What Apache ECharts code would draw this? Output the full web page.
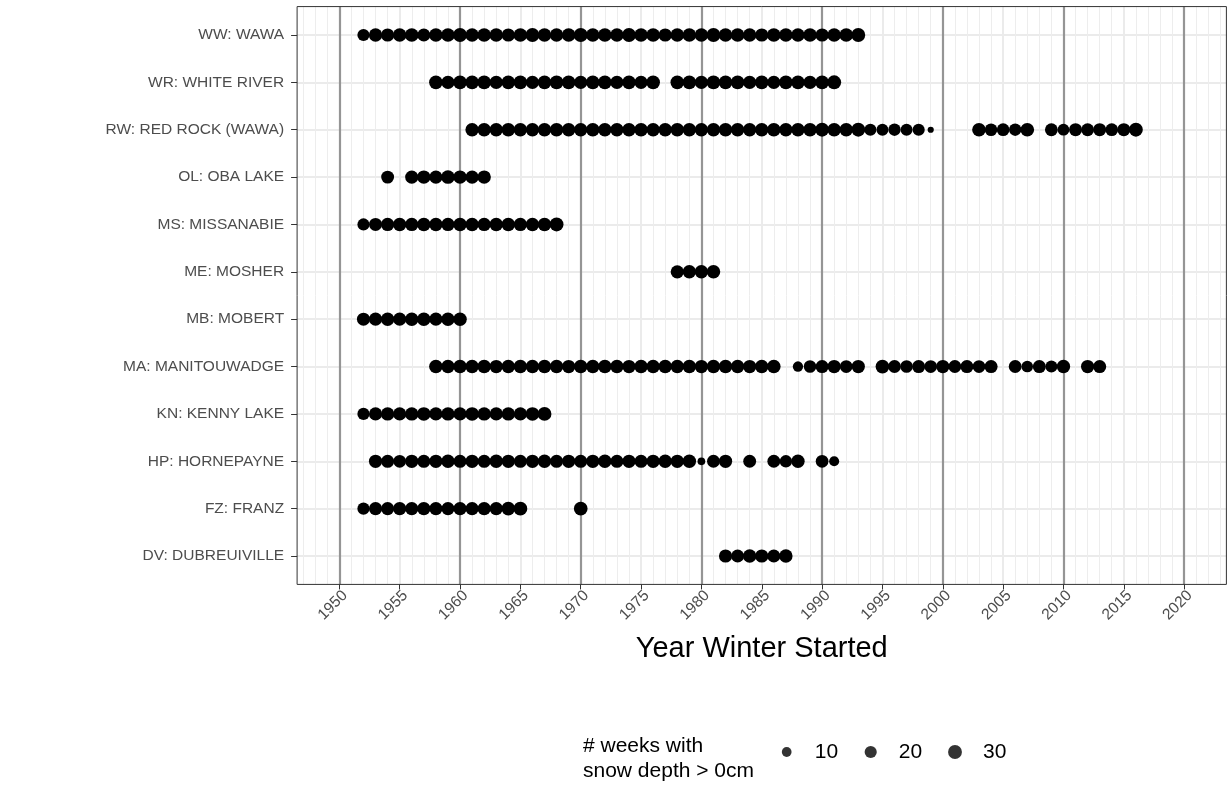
<!DOCTYPE html>
<html>
<head>
<meta charset="utf-8">
<script src="https://cdn.jsdelivr.net/npm/echarts@6/dist/echarts.min.js"></script>
<style>
  html, body { margin: 0; padding: 0; background: #fff; }
  #chart { width: 1231px; height: 793px; }
</style>
</head>
<body>
<div id="chart"></div>
<script>
// ---------------- DATA ----------------
const categories = ['WW: WAWA', 'WR: WHITE RIVER', 'RW: RED ROCK (WAWA)', 'OL: OBA LAKE', 'MS: MISSANABIE',
  'ME: MOSHER', 'MB: MOBERT', 'MA: MANITOUWADGE', 'KN: KENNY LAKE', 'HP: HORNEPAYNE', 'FZ: FRANZ', 'DV: DUBREUIVILLE'];

const wwYears = [1952,1953,1954,1955,1956,1957,1958,1959,1960,1961,1962,1963,1964,1965,1966,1967,1968,1969,1970,1971,1972,1973,1974,1975,1976,1977,1978,1979,1980,1981,1982,1983,1984,1985,1986,1987,1988,1989,1990,1991,1992,1993];
const wwWeeks = [20,27,26,28,29,25,28,29,30,27,29,28,26,29,30,28,27,29,31,28,29,27,30,28,29,26,28,29,27,30,28,29,27,26,29,28,27,29,26,28,29,30];

const wrYears = [1958,1959,1960,1961,1962,1963,1964,1965,1966,1967,1968,1969,1970,1971,1972,1973,1974,1975,1976,1978,1979,1980,1981,1982,1983,1984,1985,1986,1987,1988,1989,1990,1991];
const wrWeeks = [28,27,29,28,30,27,28,29,26,28,30,29,27,28,29,27,28,26,29,28,29,27,30,28,29,27,28,26,29,28,27,29,31];

const rwYears = [1961,1962,1963,1964,1965,1966,1967,1968,1969,1970,1971,1972,1973,1974,1975,1976,1977,1978,1979,1980,1981,1982,1983,1984,1985,1986,1987,1988,1989,1990,1991,1992,1993,1994,1995,1996,1997,1998,1999,2003,2004,2005,2006,2007,2009,2010,2011,2012,2013,2014,2015,2016];
const rwWeeks = [27,28,27,29,28,27,28,29,28,27,29,28,27,28,29,27,28,29,28,27,28,29,28,27,28,29,27,28,29,30,29,28,30,20,19,21,19,20,4.5,29,22,23,21,29,24,18,25,24,25,23,25,30];

const olYears = [1954,1956,1957,1958,1959,1960,1961,1962];
const olWeeks = [24,26,27,26,28,27,26,27];

const msYears = [1952,1953,1954,1955,1956,1957,1958,1959,1960,1961,1962,1963,1964,1965,1966,1967,1968];
const msWeeks = [20,25,26,27,26,28,27,26,28,27,26,27,28,26,27,28,30];

const meYears = [1978,1979,1980,1981];
const meWeeks = [26,27,27,28];

const mbYears = [1952,1953,1954,1955,1956,1957,1958,1959,1960];
const mbWeeks = [25,26,27,26,27,28,26,27,28];

const maYears = [1958,1959,1960,1961,1962,1963,1964,1965,1966,1967,1968,1969,1970,1971,1972,1973,1974,1975,1976,1977,1978,1979,1980,1981,1982,1983,1984,1985,1986,1988,1989,1990,1991,1992,1993,1995,1996,1997,1998,1999,2000,2001,2002,2003,2004,2006,2007,2008,2009,2010,2012,2013];
const maWeeks = [28,27,28,27,28,26,27,28,27,28,27,26,28,27,28,27,26,28,27,28,27,28,26,27,28,27,26,27,28,12,22,25,26,23,26,29,24,22,25,23,26,24,25,23,25,24,17,25,19,27,26,25];

const knYears = [1952,1953,1954,1955,1956,1957,1958,1959,1960,1961,1962,1963,1964,1965,1966,1967];
const knWeeks = [20,26,27,26,27,28,26,27,26,28,27,26,27,26,28,30];

const hpYears = [1953,1954,1955,1956,1957,1958,1959,1960,1961,1962,1963,1964,1965,1966,1967,1968,1969,1970,1971,1972,1973,1974,1975,1976,1977,1978,1979,1980,1981,1982,1984,1986,1987,1988,1990,1991];
const hpWeeks = [26,25,23,26,25,26,27,25,26,25,27,26,25,26,27,25,26,25,26,27,25,26,25,26,27,26,28,5.5,24,26,24,24,21,27,23,11];

const fzYears = [1952,1953,1954,1955,1956,1957,1958,1959,1960,1961,1962,1963,1964,1965,1970];
const fzWeeks = [20,26,25,27,26,27,26,25,27,26,27,26,28,30,29];

const dvYears = [1982,1983,1984,1985,1986,1987];
const dvWeeks = [26,25,27,26,25,27];

const legendValues = [10, 20, 30];
const xTickStart = 1950, xTickEnd = 2020, xTickStep = 5;

// ---------------- LAYOUT ----------------
const FONT = "'Liberation Sans', Arial, Helvetica, sans-serif";
const xMin = 1946.5, xMax = 2023.5;
const panelL = 297.1, panelR = 1226.4;
const ppy = (panelR - panelL) / (xMax - xMin);
const px = (yr) => panelL + (yr - xMin) * ppy;
const cTop = 35, cBot = 556;
const step = (cBot - cTop) / (categories.length - 1);
const panelT = cTop - 0.6 * step, panelB = cBot + 0.6 * step;

function sizeOf(v) { return 6.2 + 8.3 * Math.sqrt(Math.max(v - 4.5, 0) / 30); }

const stations = [
  [wwYears, wwWeeks], [wrYears, wrWeeks], [rwYears, rwWeeks], [olYears, olWeeks], [msYears, msWeeks],
  [meYears, meWeeks], [mbYears, mbWeeks], [maYears, maWeeks], [knYears, knWeeks], [hpYears, hpWeeks],
  [fzYears, fzWeeks], [dvYears, dvWeeks]
];
const points = [];
stations.forEach(([ys, ws], i) => ys.forEach((y, j) => points.push([y, categories[i], ws[j]])));

function gridBox(l, r, t, b) {
  return { left: l, width: r - l, top: t, height: b - t, outerBoundsMode: 'none', containLabel: false, show: false };
}
const hidden = { show: false };
const noAxisParts = { axisLine: hidden, axisTick: hidden, axisLabel: hidden, splitLine: hidden };

const grids = [
  Object.assign(gridBox(panelL, panelR, panelT, panelB), { show: true, borderColor: '#333333', borderWidth: 1, backgroundColor: 'transparent', z: 10 }), // 0 frame
  gridBox(px(1947), px(2023), panelT, panelB),          // 1 minor (yearly)
  gridBox(px(xTickStart), px(xTickEnd), panelT, panelB), // 2 5-year + ticks
  gridBox(px(xTickStart), px(xTickEnd), panelT, panelB), // 3 10-year dark lines
  gridBox(panelL, panelR, cTop, cBot),                   // 4 horizontal lines
  gridBox(panelL, panelR, cTop - step / 2, cBot + step / 2) // 5 data
];

const xAxes = [
  Object.assign({ type: 'value', gridIndex: 0, min: xMin, max: xMax }, noAxisParts),
  Object.assign({ type: 'value', gridIndex: 1, min: 1947, max: 2023, interval: 1, z: 1 }, noAxisParts,
    { splitLine: { show: true, lineStyle: { color: '#ededed', width: 1 } } }),
  {
    type: 'value', gridIndex: 2, min: xTickStart, max: xTickEnd, interval: xTickStep, z: 2,
    axisLine: { show: false },
    axisTick: { show: true, length: 5, lineStyle: { color: '#333333', width: 1 } },
    axisLabel: { show: true, rotate: 45, margin: 3, color: '#4d4d4d', fontSize: 15.5, fontFamily: FONT,
      verticalAlign: 'top', align: 'right', formatter: (v) => String(v) },
    splitLine: { show: true, lineStyle: { color: '#ebebeb', width: 2 } },
    name: 'Year Winter Started', nameLocation: 'middle', nameGap: 50, nameMoveOverlap: false,
    nameTextStyle: { color: '#000000', fontSize: 29, fontFamily: FONT }
  },
  Object.assign({ type: 'value', gridIndex: 3, min: xTickStart, max: xTickEnd, interval: 10, z: 3 }, noAxisParts,
    { splitLine: { show: true, lineStyle: { color: '#959595', width: 2.2 } } }),
  Object.assign({ type: 'value', gridIndex: 4, min: xMin, max: xMax }, noAxisParts),
  Object.assign({ type: 'value', gridIndex: 5, min: xMin, max: xMax }, noAxisParts)
];

const yAxes = [
  Object.assign({ type: 'value', gridIndex: 0, min: 0, max: 1 }, noAxisParts),
  Object.assign({ type: 'value', gridIndex: 1, min: 0, max: 1 }, noAxisParts),
  Object.assign({ type: 'value', gridIndex: 2, min: 0, max: 1 }, noAxisParts),
  Object.assign({ type: 'value', gridIndex: 3, min: 0, max: 1 }, noAxisParts),
  Object.assign({ type: 'value', gridIndex: 4, min: 0, max: categories.length - 1, interval: 1, z: 1 }, noAxisParts,
    { splitLine: { show: true, lineStyle: { color: '#ebebeb', width: 2 } } }),
  {
    type: 'category', gridIndex: 5, data: categories, inverse: true, z: 4,
    axisLine: { show: false },
    axisTick: { show: true, alignWithLabel: true, length: 6, lineStyle: { color: '#333333', width: 1 } },
    axisLabel: { show: true, margin: 13, color: '#4d4d4d', fontSize: 15.5, fontFamily: FONT },
    splitLine: { show: false }
  }
];

const legendKeyX = [786.7, 870.7, 955];
const legendY = 752;
const legends = legendValues.map((v, i) => ({
  left: legendKeyX[i] - sizeOf(v) / 2, top: legendY - 10.5, padding: 0, orient: 'horizontal',
  itemWidth: 46, itemHeight: sizeOf(v), icon: 'circle', selectedMode: false,
  data: [String(v)],
  textStyle: { color: '#000000', fontSize: 21, fontFamily: FONT }
}));

const series = [
  {
    type: 'scatter', xAxisIndex: 5, yAxisIndex: 5, z: 20,
    data: points,
    symbol: 'circle',
    symbolSize: (val) => sizeOf(val[2]),
    itemStyle: { color: '#000000', opacity: 1 },
    emphasis: { disabled: true },
    animation: false
  }
].concat(legendValues.map((v) => ({
  type: 'scatter', name: String(v), xAxisIndex: 5, yAxisIndex: 5, data: [],
  symbol: 'circle', itemStyle: { color: '#000000' }
})));

const chart = echarts.init(document.getElementById('chart'), null, { renderer: 'canvas' });
chart.setOption({
  backgroundColor: '#ffffff',
  animation: false,
  textStyle: { fontFamily: FONT },
  title: {
    text: '# weeks with\nsnow depth > 0cm', left: 583, top: 734, padding: 0,
    textStyle: { color: '#000000', fontSize: 21, fontWeight: 'normal', fontFamily: FONT, lineHeight: 25 }
  },
  grid: grids,
  xAxis: xAxes,
  yAxis: yAxes,
  legend: legends,
  series: series
});
</script>
</body>
</html>
